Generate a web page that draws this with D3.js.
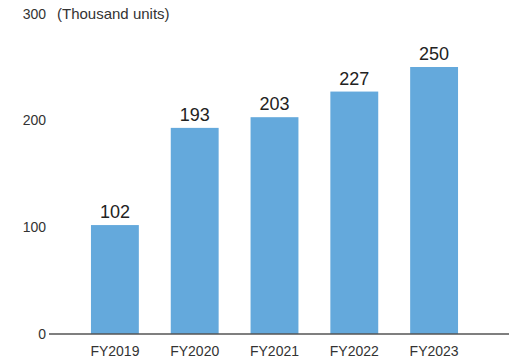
<!DOCTYPE html>
<html>
<head>
<meta charset="utf-8">
<script src="https://cdn.jsdelivr.net/npm/d3@7"></script>
<style>
  html, body { margin: 0; padding: 0; background: #fff; }
  svg { display: block; font-family: "Liberation Sans", Arial, Helvetica, sans-serif; }
</style>
</head>
<body>
<svg id="chart" width="509" height="360"></svg>
<script>
const categories = ["FY2019", "FY2020", "FY2021", "FY2022", "FY2023"];
const values = [102, 193, 203, 227, 250];
const yTicks = [0, 100, 200, 300];
const unitLabel = "(Thousand units)";

const svg = d3.select("#chart");
const W = 509, H = 360;
const y0 = 334;

const x = d3.scaleBand()
  .domain(categories)
  .range([75, 474])
  .paddingInner(0.4)
  .paddingOuter(0.2);

const y = d3.scaleLinear()
  .domain([0, 300])
  .range([y0, 13.6]);

// bars
svg.append("g").selectAll("rect")
  .data(values)
  .join("rect")
  .attr("x", (d, i) => x(categories[i]))
  .attr("y", d => y(d))
  .attr("width", x.bandwidth())
  .attr("height", d => y(0) - y(d))
  .attr("fill", "#64a9dc");

// value labels
svg.append("g").selectAll("text")
  .data(values)
  .join("text")
  .attr("x", (d, i) => x(categories[i]) + x.bandwidth() / 2)
  .attr("y", d => y(d) - 7)
  .attr("text-anchor", "middle")
  .attr("font-size", 18)
  .attr("fill", "#222")
  .text(d => d);

// y axis tick labels (no axis line)
const yAxis = d3.axisLeft(y).tickValues(yTicks).tickSize(0).tickPadding(0);
const gy = svg.append("g").attr("transform", "translate(46,0)").call(yAxis);
gy.select(".domain").remove();
gy.selectAll("text")
  .attr("font-size", 14)
  .attr("font-family", "Liberation Sans, Arial, sans-serif")
  .attr("fill", "#333");

// unit label
svg.append("text")
  .attr("x", 57)
  .attr("y", y(300))
  .attr("dy", "0.34em")
  .attr("font-size", 15)
  .attr("fill", "#333")
  .text(unitLabel);

// x axis
const xAxis = d3.axisBottom(x).tickSize(0).tickPadding(12);
const gx = svg.append("g").attr("transform", `translate(0,${y0})`).call(xAxis);
gx.select(".domain").remove();
gx.selectAll("text")
  .attr("font-size", 14)
  .attr("font-family", "Liberation Sans, Arial, sans-serif")
  .attr("fill", "#333");

// baseline
svg.append("line")
  .attr("x1", 49).attr("x2", W)
  .attr("y1", y(0)).attr("y2", y(0))
  .attr("stroke", "#555")
  .attr("stroke-width", 1.3);
</script>
</body>
</html>
